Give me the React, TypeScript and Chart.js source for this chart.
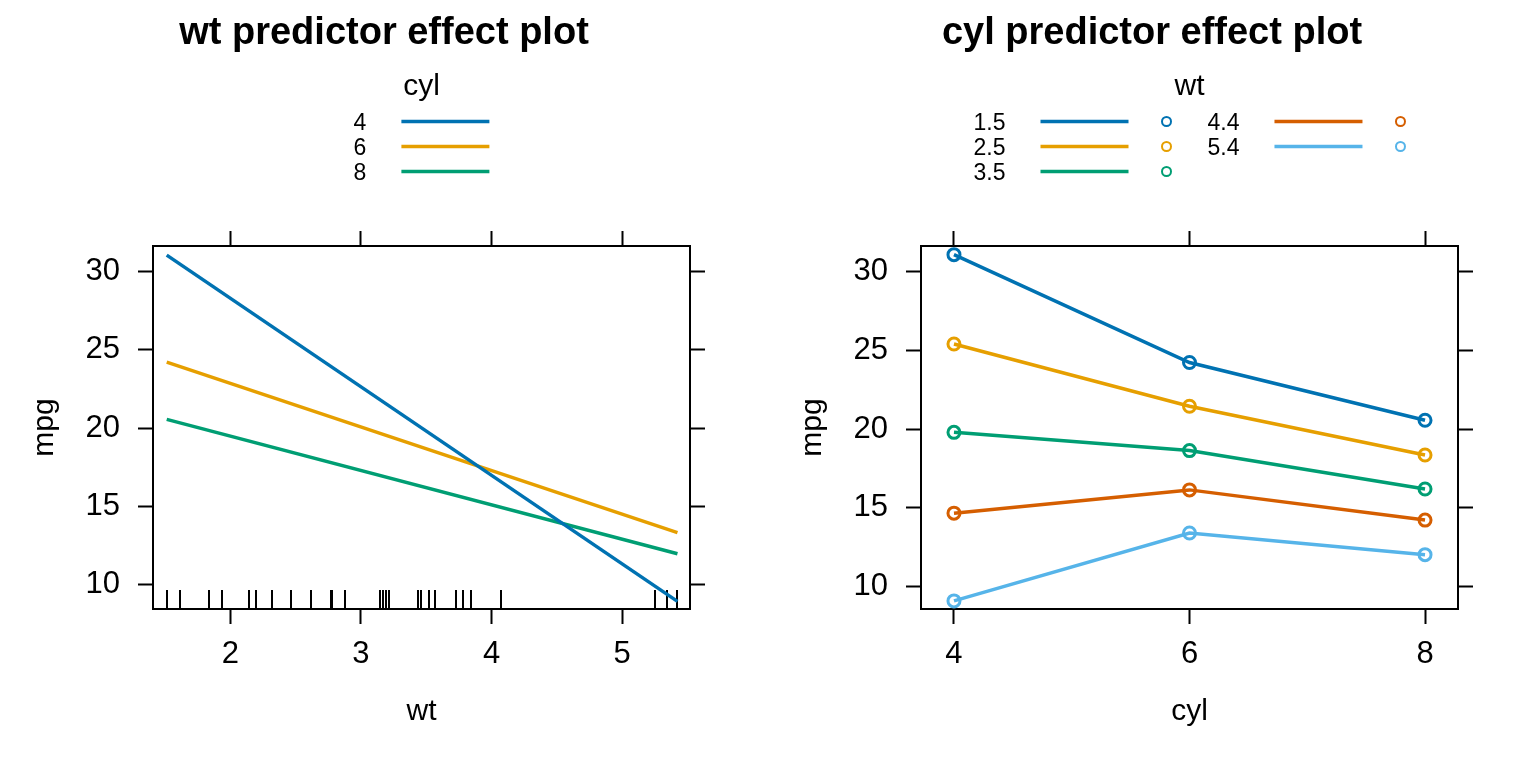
import React, { useEffect, useRef } from 'react';
import { Chart, registerables } from 'chart.js';

Chart.register(...registerables);

const FONT = '"Liberation Sans", Arial, Helvetica, sans-serif';

// left panel: fitted mpg at the ends of the observed wt range, by cyl
const wtEnds = [1.513, 5.424];
const fitCyl4 = [31.03, 8.94];
const fitCyl6 = [24.2, 13.33];
const fitCyl8 = [20.55, 11.98];
const cylLabels = ['4', '6', '8'];
// observed wt values (rug)
const rugWt = [
  2.62, 2.875, 2.32, 3.215, 3.44, 3.46, 3.57, 3.19, 3.15, 3.44, 3.44, 4.07, 3.73, 3.78, 5.25, 5.424,
  5.345, 2.2, 1.615, 1.835, 2.465, 3.52, 3.435, 3.84, 3.845, 1.935, 2.14, 1.513, 3.17, 2.77, 3.57, 2.78,
];

// right panel: fitted mpg at cyl = 4, 6, 8 for several wt values
const cylValues = [4, 6, 8];
const wtLabels = ['1.5', '2.5', '3.5', '4.4', '5.4'];
const mpgWt15 = [31.1, 24.24, 20.57];
const mpgWt25 = [25.42, 21.46, 18.36];
const mpgWt35 = [19.8, 18.64, 16.2];
const mpgWt44 = [14.66, 16.14, 14.22];
const mpgWt54 = [9.08, 13.4, 12.02];

const palette = ['#0072B2', '#E69F00', '#009E73', '#D55E00', '#56B4E9'];

// title, key and rug drawn around the panel
const decor = {
  id: 'decor',
  beforeDatasetsDraw(chart: any, _args: any, opts: any) {
    if (!opts.rug) return;
    const { ctx, chartArea } = chart;
    const xs = chart.scales.x;
    ctx.save();
    ctx.strokeStyle = '#000';
    ctx.lineWidth = 2;
    for (const v of opts.rug) {
      const px = Math.round(xs.getPixelForValue(v));
      ctx.beginPath();
      ctx.moveTo(px, chartArea.bottom);
      ctx.lineTo(px, chartArea.bottom - 19);
      ctx.stroke();
    }
    ctx.restore();
  },
  afterDraw(chart: any, _args: any, opts: any) {
    const { ctx, chartArea, width } = chart;
    ctx.save();
    ctx.fillStyle = '#000';
    ctx.textBaseline = 'alphabetic';
    ctx.textAlign = 'center';
    ctx.font = `bold 38px ${FONT}`;
    ctx.fillText(opts.title, width / 2, 44);

    const cx = (chartArea.left + chartArea.right) / 2;
    ctx.font = `30px ${FONT}`;
    ctx.fillText(opts.keyTitle, cx, 95);

    ctx.font = `23px ${FONT}`;
    const labels: string[] = opts.labels;
    const rows = Math.ceil(labels.length / opts.columns);
    const labelW = Math.max(...labels.map((l) => ctx.measureText(l).width));
    const colW = labelW + 35 + 88 + (opts.points ? 43 : 0);
    const total = colW * opts.columns + 36 * (opts.columns - 1);
    const x0 = cx - total / 2;
    labels.forEach((lab, i) => {
      const col = Math.floor(i / rows);
      const row = i % rows;
      const lx = x0 + col * (colW + 36);
      const ry = 121.5 + row * 25;
      ctx.textAlign = 'left';
      ctx.fillStyle = '#000';
      ctx.fillText(lab, lx, ry + 8);
      ctx.strokeStyle = opts.colors[i];
      ctx.lineWidth = 3.5;
      ctx.beginPath();
      ctx.moveTo(lx + labelW + 35, ry);
      ctx.lineTo(lx + labelW + 35 + 88, ry);
      ctx.stroke();
      if (opts.points) {
        ctx.lineWidth = 2;
        ctx.beginPath();
        ctx.arc(lx + labelW + 35 + 88 + 38, ry, 4.5, 0, Math.PI * 2);
        ctx.stroke();
      }
    });
    ctx.restore();
  },
};

function boxScales(xmin: number, xmax: number, xstep: number, ymin: number, ymax: number, xTitle: string) {
  const tickFont = { family: FONT, size: 31 };
  const titleFont = { family: FONT, size: 30 };
  const border = { display: true, color: '#000', width: 2 };
  const grid = { drawOnChartArea: false, drawTicks: true, tickLength: 15, tickColor: '#000', tickWidth: 2, color: '#000' };
  return {
    x: {
      type: 'linear', position: 'bottom', min: xmin, max: xmax, border, grid,
      ticks: { stepSize: xstep, includeBounds: false, font: tickFont, color: '#000', padding: 12, maxRotation: 0 },
      title: { display: true, text: xTitle, font: titleFont, color: '#000', padding: { top: 0, bottom: 38 } },
      afterFit: (s: any) => { s.height = 159; },
    },
    x2: {
      type: 'linear', position: 'top', min: xmin, max: xmax, border, grid,
      ticks: { stepSize: xstep, includeBounds: false, display: false },
      afterFit: (s: any) => { s.height = 246; },
    },
    y: {
      type: 'linear', position: 'left', min: ymin, max: ymax, border, grid,
      ticks: { stepSize: 5, includeBounds: false, font: tickFont, color: '#000', padding: 18 },
      title: { display: true, text: 'mpg', font: titleFont, color: '#000', padding: { top: 27, bottom: 0 } },
      afterFit: (s: any) => { s.width = 153; },
    },
    y2: {
      type: 'linear', position: 'right', min: ymin, max: ymax, border, grid,
      ticks: { stepSize: 5, includeBounds: false, display: false },
      afterFit: (s: any) => { s.width = 78; },
    },
  };
}

const ChartCanvas: React.FC<{ config: any }> = ({ config }) => {
  const ref = useRef<HTMLCanvasElement>(null);
  useEffect(() => {
    if (!ref.current) return;
    const chart = new Chart(ref.current, config);
    return () => chart.destroy();
  }, [config]);
  return <canvas ref={ref} />;
};

const wtSeries = [fitCyl4, fitCyl6, fitCyl8];
const wtConfig = {
  type: 'scatter',
  data: {
    datasets: wtSeries.map((s, i) => ({
      label: cylLabels[i],
      data: wtEnds.map((w, j) => ({ x: w, y: s[j] })),
      showLine: true,
      borderColor: palette[i],
      borderWidth: 3.5,
      pointRadius: 0,
    })),
  },
  options: {
    animation: false,
    responsive: true,
    maintainAspectRatio: false,
    layout: { padding: 0 },
    scales: boxScales(1.408, 5.52, 1, 8.455, 31.61, 'wt'),
    plugins: {
      legend: { display: false },
      tooltip: { enabled: false },
      decor: { title: 'wt predictor effect plot', keyTitle: 'cyl', labels: cylLabels, colors: palette, columns: 1, points: false, rug: rugWt },
    },
  },
  plugins: [decor],
};

const cylSeries = [mpgWt15, mpgWt25, mpgWt35, mpgWt44, mpgWt54];
const cylConfig = {
  type: 'scatter',
  data: {
    datasets: cylSeries.map((s, i) => ({
      label: wtLabels[i],
      data: cylValues.map((c, j) => ({ x: c, y: s[j] })),
      showLine: true,
      borderColor: palette[i],
      borderWidth: 3.5,
      pointStyle: 'circle',
      pointRadius: 6,
      pointBorderWidth: 3,
      pointBorderColor: palette[i],
      pointBackgroundColor: 'rgba(0,0,0,0)',
    })),
  },
  options: {
    animation: false,
    responsive: true,
    maintainAspectRatio: false,
    layout: { padding: 0 },
    scales: boxScales(3.72, 8.28, 2, 8.565, 31.65, 'cyl'),
    plugins: {
      legend: { display: false },
      tooltip: { enabled: false },
      decor: { title: 'cyl predictor effect plot', keyTitle: 'wt', labels: wtLabels, colors: palette, columns: 2, points: true },
    },
  },
  plugins: [decor],
};

export default function App() {
  return (
    <div style={{ position: 'absolute', left: 0, top: 0, width: 1536, height: 768, display: 'flex', background: '#fff' }}>
      <div style={{ position: 'relative', width: 768, height: 768 }}>
        <ChartCanvas config={wtConfig} />
      </div>
      <div style={{ position: 'relative', width: 768, height: 768 }}>
        <ChartCanvas config={cylConfig} />
      </div>
    </div>
  );
}
